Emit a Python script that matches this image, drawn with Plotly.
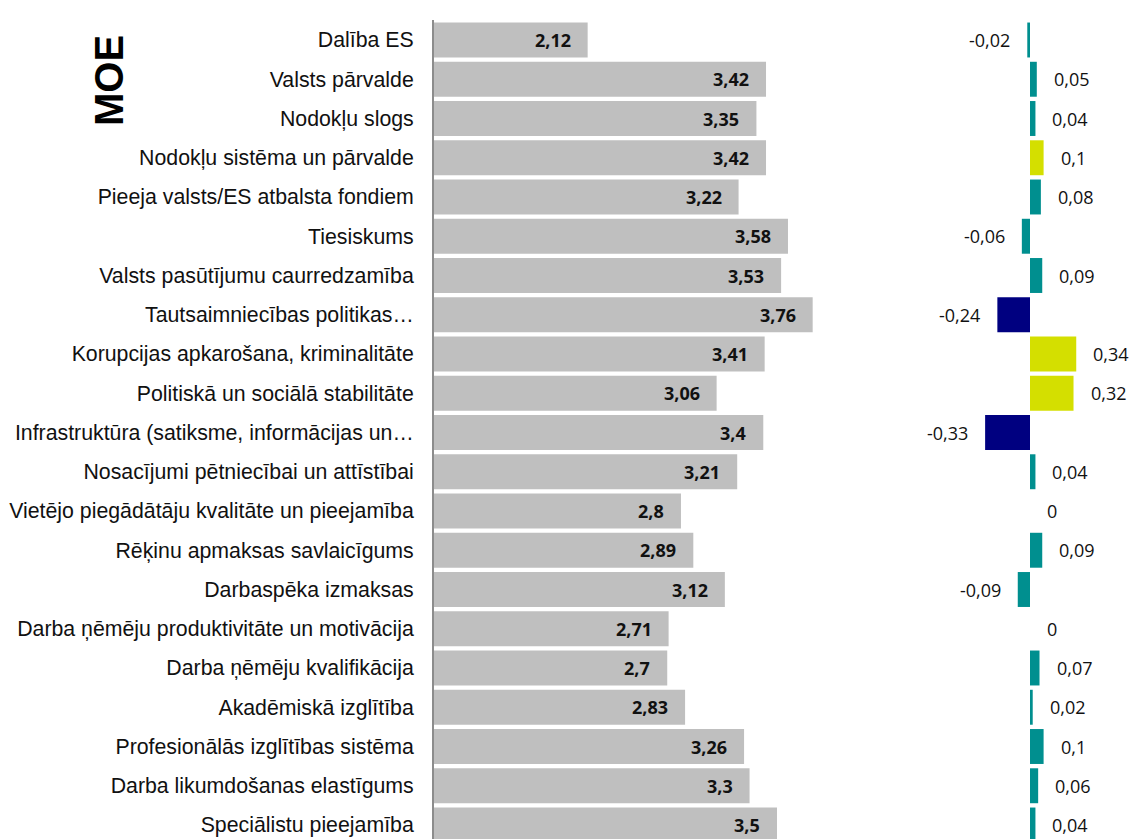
import plotly.graph_objects as go

categories = [
    "Dalība ES",
    "Valsts pārvalde",
    "Nodokļu slogs",
    "Nodokļu sistēma un pārvalde",
    "Pieeja valsts/ES atbalsta fondiem",
    "Tiesiskums",
    "Valsts pasūtījumu caurredzamība",
    "Tautsaimniecības politikas…",
    "Korupcijas apkarošana, kriminalitāte",
    "Politiskā un sociālā stabilitāte",
    "Infrastruktūra (satiksme, informācijas un…",
    "Nosacījumi pētniecībai un attīstībai",
    "Vietējo piegādātāju kvalitāte un pieejamība",
    "Rēķinu apmaksas savlaicīgums",
    "Darbaspēka izmaksas",
    "Darba ņēmēju produktivitāte un motivācija",
    "Darba ņēmēju kvalifikācija",
    "Akadēmiskā izglītība",
    "Profesionālās izglītības sistēma",
    "Darba likumdošanas elastīgums",
    "Speciālistu pieejamība",
]
scores = [2.12, 3.42, 3.35, 3.42, 3.22, 3.58, 3.53, 3.76, 3.41, 3.06, 3.4,
          3.21, 2.8, 2.89, 3.12, 2.71, 2.7, 2.83, 3.26, 3.3, 3.5]
changes = [-0.02, 0.05, 0.04, 0.1, 0.08, -0.06, 0.09, -0.24, 0.34, 0.32, -0.33,
           0.04, 0, 0.09, -0.09, 0, 0.07, 0.02, 0.1, 0.06, 0.04]
change_groups = ["small", "small", "small", "up", "small", "small", "small", "down",
                 "up", "up", "down", "small", "small", "small", "small", "small",
                 "small", "small", "small", "small", "small"]
title_text = "MOE"

group_colors = {"small": "#008F8F", "up": "#D4DF00", "down": "#000080"}


def fmt(v):
    return f"{v:g}".replace(".", ",")


W, H = 1132, 839
AXIS_X = 434
TOP_Y = 20
ZERO_X = 1030
SPLIT_X = 900
ML, MT = AXIS_X, TOP_Y
plot_w = W - ML
split = (SPLIT_X - AXIS_X) / plot_w

left_scale = 137.2
right_scale = 136.0

fig = go.Figure()
fig.add_trace(go.Bar(
    y=categories, x=scores, orientation="h",
    marker=dict(color="#BFBFBF", line=dict(width=0)),
    xaxis="x", yaxis="y", hoverinfo="skip",
))
fig.add_trace(go.Bar(
    y=categories, x=changes, orientation="h",
    marker=dict(color=[group_colors[g] for g in change_groups],
                line=dict(width=0)),
    xaxis="x2", yaxis="y", hoverinfo="skip",
))

annotations = []
for c, s in zip(categories, scores):
    annotations.append(dict(
        x=s, y=c, xref="x", yref="y", text=fmt(s), showarrow=False,
        xanchor="right", xshift=-15,
        font=dict(family="Open Sans", size=18, color="#111111", weight="bold"),
    ))
for c, d in zip(categories, changes):
    annotations.append(dict(
        x=d, y=c, xref="x2", yref="y", text=fmt(d), showarrow=False,
        xanchor="right" if d < 0 else "left", xshift=-15 if d < 0 else 15,
        font=dict(family="Open Sans", size=18, color="#111111"),
    ))
annotations.append(dict(
    x=(109 - ML) / plot_w, y=1 - (81 - MT) / (H - MT),
    xref="paper", yref="paper",
    text="<b>" + title_text + "</b>", showarrow=False, textangle=-90,
    xanchor="center", yanchor="middle",
    font=dict(family="Liberation Sans, Arial", size=40, color="#000000"),
))

row_px = 39.25
first_c = 40
top_v = -0.5 - (first_c - row_px / 2 - MT) / row_px
bot_v = (H - first_c) / row_px

fig.update_layout(
    width=W, height=H,
    margin=dict(l=ML, r=0, t=MT, b=0),
    paper_bgcolor="white", plot_bgcolor="white",
    showlegend=False, bargap=0.11,
    xaxis=dict(domain=[0, split],
               range=[1, 1 + (SPLIT_X - AXIS_X) / left_scale],
               visible=False, fixedrange=True),
    xaxis2=dict(domain=[split, 1],
                range=[-(ZERO_X - SPLIT_X) / right_scale,
                       (W - ZERO_X) / right_scale],
                visible=False, anchor="y", fixedrange=True),
    yaxis=dict(type="category", range=[bot_v, top_v], showline=True,
               linecolor="#8C8C8C", linewidth=2, ticks="", showgrid=False,
               zeroline=False, ticklabelstandoff=14,
               tickfont=dict(family="Liberation Sans, Arial", size=21.3,
                             color="#111111"),
               anchor="x", fixedrange=True),
    annotations=annotations,
)

fig.write_html(
    "out.html",
    config={"displayModeBar": False},
    post_script="document.body.style.margin='0';"
                "document.body.style.overflow='hidden';",
)
